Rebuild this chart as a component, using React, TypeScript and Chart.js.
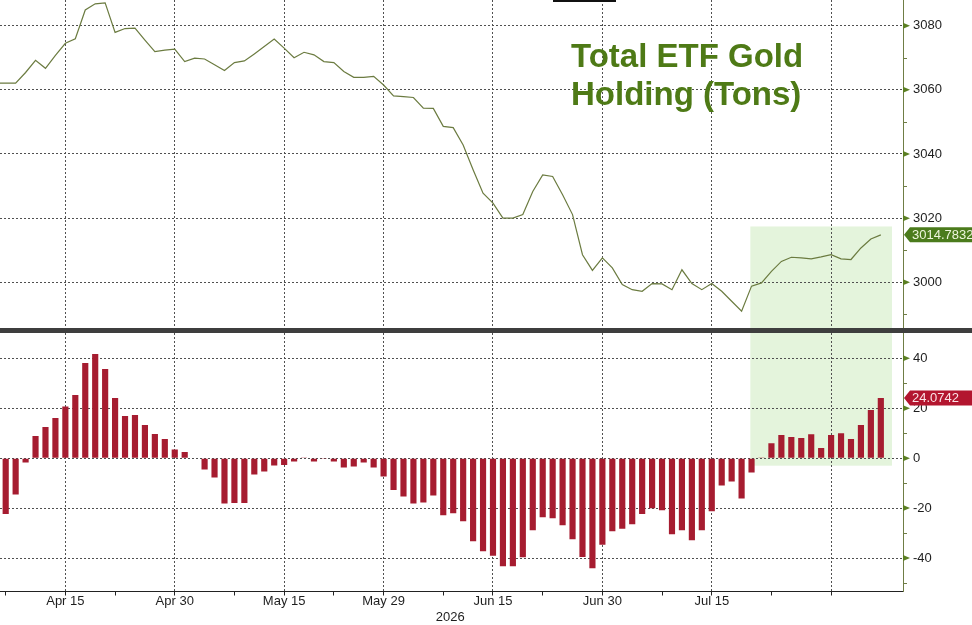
import React, { useEffect, useRef } from "react";
import { Chart, registerables } from "chart.js";

Chart.register(...registerables);

// ---------- data (weekdays, 2026) ----------
const dates = [
  "Apr 6", "Apr 7", "Apr 8", "Apr 9", "Apr 10", "Apr 13", "Apr 14", "Apr 15", "Apr 16", "Apr 17",
  "Apr 20", "Apr 21", "Apr 22", "Apr 23", "Apr 24", "Apr 27", "Apr 28", "Apr 29", "Apr 30",
  "May 1", "May 4", "May 5", "May 6", "May 7", "May 8", "May 11", "May 12", "May 13", "May 14", "May 15",
  "May 18", "May 19", "May 20", "May 21", "May 22", "May 25", "May 26", "May 27", "May 28", "May 29",
  "Jun 1", "Jun 2", "Jun 3", "Jun 4", "Jun 5", "Jun 8", "Jun 9", "Jun 10", "Jun 11", "Jun 12",
  "Jun 15", "Jun 16", "Jun 17", "Jun 18", "Jun 19", "Jun 22", "Jun 23", "Jun 24", "Jun 25", "Jun 26",
  "Jun 29", "Jun 30", "Jul 1", "Jul 2", "Jul 3", "Jul 6", "Jul 7", "Jul 8", "Jul 9", "Jul 10",
  "Jul 13", "Jul 14", "Jul 15", "Jul 16", "Jul 17", "Jul 20", "Jul 21", "Jul 22", "Jul 23", "Jul 24",
  "Jul 27", "Jul 28", "Jul 29", "Jul 30", "Jul 31", "Aug 3", "Aug 4", "Aug 5", "Aug 6", "Aug 7",
];

// Total ETF gold holding (tons)
const holdings = [
  3062.1,
  3062.1, 3062.1, 3065.4, 3069.2, 3066.7, 3070.7, 3074.5, 3075.9, 3084.9, 3086.8,
  3087.1, 3077.9, 3079.1, 3079.2, 3075.5, 3071.9, 3072.4, 3072.7, 3068.8, 3069.9,
  3069.6, 3067.8, 3066.0, 3068.5, 3069.0, 3071.2, 3073.5, 3075.8, 3073.0, 3070.0,
  3071.7, 3070.9, 3068.8, 3068.5, 3065.7, 3063.9, 3063.9, 3064.2, 3061.5, 3058.1,
  3057.9, 3057.6, 3054.3, 3054.2, 3048.6, 3048.2, 3042.8, 3035.1, 3027.8, 3024.7,
  3020.0, 3020.0, 3021.1, 3028.3, 3033.5, 3033.0, 3027.3, 3021.1, 3008.6, 3003.7,
  3007.6, 3004.5, 2999.3, 2997.7, 2997.2, 2999.6, 2999.5, 2997.7, 3003.9, 2999.6,
  2997.7, 2999.6, 2997.2, 2994.1, 2991.0, 2998.8, 2999.8, 3003.4, 3006.5, 3007.8,
  3007.6, 3007.3, 3007.9, 3008.6, 3007.3, 3007.1, 3010.7, 3013.5, 3014.7832,
];

// Rolling change in holdings (tons)
const flows = [
  null,
  -22.4, -14.5, -1.7, 8.9, 12.5, 16.1, 20.7, 25.3, 38.1, 41.7,
  35.7, 24.1, 16.9, 17.3, 13.3, 9.7, 7.7, 3.5, 2.5, 0.2,
  -4.5, -7.7, -18.1, -17.9, -17.9, -6.5, -5.3, -2.9, -2.7, -1.3,
  0.3, -1.3, -0.3, -1.3, -3.7, -3.3, -1.7, -3.7, -7.3, -12.7,
  -15.3, -18.1, -17.7, -14.9, -22.9, -22.1, -25.3, -33.3, -37.3, -39.1,
  -43.3, -43.3, -39.7, -28.9, -23.7, -24.1, -26.9, -32.5, -39.6, -44.1,
  -34.7, -29.3, -28.3, -26.5, -22.4, -20.1, -20.9, -30.5, -28.9, -32.9,
  -28.9, -21.3, -10.9, -9.3, -16.1, -5.7, 0.3, 6.0, 9.3, 8.5,
  8.1, 9.6, 4.1, 9.3, 10.0, 7.7, 13.3, 19.3, 24.0742,
];

const gridDates = ["Apr 15", "Apr 30", "May 15", "May 29", "Jun 15", "Jun 30", "Jul 15", "Jul 31"];
const labelDates = ["Apr 15", "Apr 30", "May 15", "May 29", "Jun 15", "Jun 30", "Jul 15"];
const minorDates = ["Apr 7", "Apr 22", "May 8", "May 22", "Jun 8", "Jun 22", "Jul 8", "Jul 23"];
const holdingTicks = [3080, 3060, 3040, 3020, 3000];
const holdingMinor = [3070, 3050, 3030, 3010, 2990];
const flowTicks = [40, 20, 0, -20, -40];
const flowMinor = [30, 10, -10, -30, -50];
const yearLabel = "2026";
const titleLines = ["Total ETF Gold", "Holding (Tons)"];

// ---------- view / style constants ----------
const X_MIN = 0.427;
const X_MAX = 91.23;
const TOP_MIN = 2985.75;
const TOP_MAX = 3088;
const BOT_MIN = -53.4;
const BOT_MAX = 50.15;
const SHADE_X0 = 75.88;
const SHADE_X1 = 90.12;
const SHADE_TOP = 3017.4;
const SHADE_BOT = -3;
const YEAR_X = 45.7;

const FONT = '"Liberation Sans", Arial, Helvetica, sans-serif';
const GRID = "#505050";
const DASH = [2, 2];
const AXIS = "#6f7d45";
const TRI = "#5b7f22";
const LINE = "#6b7b40";
const BAR = "#a61c30";
const SHADE = "#e4f4dc";
const TEXT = "#1e1e1e";
const TITLE = "#4e7a16";

const idx = (d: string) => dates.indexOf(d);

const zeroPad = (s: any) => {
  s.paddingTop = 0;
  s.paddingBottom = 0;
  s.paddingLeft = 0;
  s.paddingRight = 0;
};

const shadePlugin = (yTop: number | null, yBottom: number | null) => ({
  id: "shade",
  beforeDraw(chart: any) {
    const { ctx, chartArea, scales } = chart;
    const x0 = scales.x.getPixelForValue(SHADE_X0);
    const x1 = scales.x.getPixelForValue(SHADE_X1);
    const t = yTop === null ? chartArea.top : scales.y.getPixelForValue(yTop);
    const b = yBottom === null ? chartArea.bottom : scales.y.getPixelForValue(yBottom);
    ctx.save();
    ctx.fillStyle = SHADE;
    ctx.fillRect(x0, t, x1 - x0, b - t);
    ctx.restore();
  },
});

function drawAxisMarks(chart: any, majors: number[], minors: number[]) {
  const { ctx, chartArea, scales } = chart;
  const x0 = chartArea.right;
  ctx.save();
  ctx.fillStyle = TRI;
  majors.forEach((v) => {
    const py = scales.y.getPixelForValue(v);
    ctx.beginPath();
    ctx.moveTo(x0, py - 3);
    ctx.lineTo(x0 + 7, py);
    ctx.lineTo(x0, py + 3);
    ctx.closePath();
    ctx.fill();
  });
  ctx.strokeStyle = AXIS;
  ctx.lineWidth = 1;
  minors.forEach((v) => {
    const py = Math.round(scales.y.getPixelForValue(v)) + 0.5;
    if (py < chartArea.top || py > chartArea.bottom) return;
    ctx.beginPath();
    ctx.moveTo(x0, py);
    ctx.lineTo(x0 + 4, py);
    ctx.stroke();
  });
  ctx.restore();
}

function drawTag(chart: any, value: number, bg: string, fg: string) {
  const { ctx, chartArea, scales, width } = chart;
  const py = scales.y.getPixelForValue(value);
  const x0 = chartArea.right + 1;
  const h = 15;
  ctx.save();
  ctx.fillStyle = bg;
  ctx.beginPath();
  ctx.moveTo(x0, py);
  ctx.lineTo(x0 + 6, py - h / 2);
  ctx.lineTo(width, py - h / 2);
  ctx.lineTo(width, py + h / 2);
  ctx.lineTo(x0 + 6, py + h / 2);
  ctx.closePath();
  ctx.fill();
  ctx.fillStyle = fg;
  ctx.font = `13px ${FONT}`;
  ctx.textBaseline = "middle";
  ctx.textAlign = "left";
  ctx.fillText(value.toFixed(4), x0 + 8, py + 0.5);
  ctx.restore();
}

const topMarks = {
  id: "topMarks",
  afterDraw(chart: any) {
    const { ctx } = chart;
    ctx.save();
    ctx.fillStyle = TITLE;
    ctx.font = `bold 33px ${FONT}`;
    ctx.textAlign = "left";
    ctx.textBaseline = "alphabetic";
    ctx.fillText(titleLines[0], 571, 66.7);
    ctx.fillText(titleLines[1], 571, 105);
    ctx.restore();
    drawAxisMarks(chart, holdingTicks, holdingMinor);
    drawTag(chart, holdings[holdings.length - 1], "#4b7b1c", "#eef5dc");
  },
};

const botMarks = {
  id: "botMarks",
  afterDraw(chart: any) {
    const { ctx, scales } = chart;
    drawAxisMarks(chart, flowTicks, flowMinor);
    drawTag(chart, flows[flows.length - 1] as number, "#b3162f", "#fbe3e6");
    ctx.save();
    ctx.fillStyle = TEXT;
    ctx.font = `13px ${FONT}`;
    ctx.textAlign = "center";
    ctx.textBaseline = "middle";
    ctx.fillText(yearLabel, scales.x.getPixelForValue(YEAR_X), 284.3);
    ctx.restore();
  },
};

export default function App() {
  const topRef = useRef<HTMLCanvasElement>(null);
  const botRef = useRef<HTMLCanvasElement>(null);

  useEffect(() => {
    const common: any = {
      responsive: false,
      animation: false,
      events: [],
      layout: { padding: 0 },
      plugins: { legend: { display: false }, tooltip: { enabled: false }, title: { display: false } },
    };

    const top = new Chart(topRef.current as HTMLCanvasElement, {
      type: "line",
      data: {
        datasets: [
          {
            data: holdings.map((v, i) => ({ x: i, y: v })),
            borderColor: LINE,
            borderWidth: 1.2,
            pointRadius: 0,
            tension: 0,
            fill: false,
          },
        ],
      },
      options: {
        ...common,
        scales: {
          x: {
            type: "linear",
            min: X_MIN,
            max: X_MAX,
            offset: false,
            afterBuildTicks: (s: any) => {
              s.ticks = gridDates.map((d) => ({ value: idx(d) }));
            },
            ticks: { display: false, autoSkip: false },
            grid: { color: GRID, lineWidth: 1, drawTicks: false, offset: false },
            border: { display: false, dash: DASH },
            afterFit: (s: any) => {
              s.height = 0;
              zeroPad(s);
            },
          },
          y: {
            type: "linear",
            position: "right",
            min: TOP_MIN,
            max: TOP_MAX,
            afterBuildTicks: (s: any) => {
              s.ticks = holdingTicks.map((v) => ({ value: v }));
            },
            ticks: {
              autoSkip: false,
              padding: 10,
              color: TEXT,
              font: { family: FONT, size: 13 },
              callback: (v: any) => String(v),
            },
            grid: { color: GRID, lineWidth: 1, drawTicks: false },
            border: { color: AXIS, width: 1, dash: DASH },
            afterFit: (s: any) => {
              s.width = 69;
              zeroPad(s);
            },
          },
        },
      } as any,
      plugins: [shadePlugin(SHADE_TOP, null), topMarks],
    });

    const barData = flows
      .map((v, i) => ({ x: i, y: v }))
      .filter((p) => p.y !== null);

    const bot = new Chart(botRef.current as HTMLCanvasElement, {
      type: "bar",
      data: {
        datasets: [
          {
            data: barData as any,
            backgroundColor: BAR,
            borderWidth: 0,
            barPercentage: 0.62,
            categoryPercentage: 1,
          },
        ],
      },
      options: {
        ...common,
        scales: {
          x: {
            type: "linear",
            min: X_MIN,
            max: X_MAX,
            offset: false,
            afterBuildTicks: (s: any) => {
              s.ticks = [...gridDates, ...minorDates]
                .map((d) => ({ value: idx(d) }))
                .sort((a, b) => a.value - b.value);
            },
            ticks: {
              autoSkip: false,
              maxRotation: 0,
              minRotation: 0,
              padding: 0,
              color: TEXT,
              font: { family: FONT, size: 13, lineHeight: 0.9 },
              callback: (v: any) => {
                const d = dates[Math.round(v)];
                return labelDates.includes(d) ? d : "";
              },
            },
            grid: {
              color: (c: any) =>
                c.tick && !gridDates.includes(dates[Math.round(c.tick.value)]) ? "rgba(0,0,0,0)" : GRID,
              lineWidth: 1,
              drawTicks: true,
              tickLength: 4,
              tickColor: "#222",
              tickWidth: 1,
              offset: false,
            },
            border: { display: true, color: "#222", width: 1, dash: DASH },
            afterFit: (s: any) => {
              s.height = 33.5;
              zeroPad(s);
            },
          },
          y: {
            type: "linear",
            position: "right",
            min: BOT_MIN,
            max: BOT_MAX,
            beginAtZero: false,
            afterBuildTicks: (s: any) => {
              s.ticks = flowTicks.map((v) => ({ value: v }));
            },
            ticks: {
              autoSkip: false,
              padding: 10,
              color: TEXT,
              font: { family: FONT, size: 13 },
              callback: (v: any) => String(v),
            },
            grid: { color: GRID, lineWidth: 1, drawTicks: false },
            border: { color: AXIS, width: 1, dash: DASH },
            afterFit: (s: any) => {
              s.width = 69;
              zeroPad(s);
            },
          },
        },
      } as any,
      plugins: [shadePlugin(null, SHADE_BOT), botMarks],
    });

    return () => {
      top.destroy();
      bot.destroy();
    };
  }, []);

  return (
    <div
      style={{
        position: "fixed",
        left: 0,
        top: 0,
        width: 972,
        height: 625,
        background: "#ffffff",
        overflow: "hidden",
      }}
    >
      <canvas
        ref={topRef}
        width={972}
        height={328}
        style={{ position: "absolute", left: 0, top: 0, width: 972, height: 328 }}
      />
      <div style={{ position: "absolute", left: 0, top: 328, width: 972, height: 5, background: "#3e3e3e" }} />
      <div style={{ position: "absolute", left: 553, top: 0, width: 63, height: 2, background: "#111" }} />
      <canvas
        ref={botRef}
        width={972}
        height={292}
        style={{ position: "absolute", left: 0, top: 333, width: 972, height: 292 }}
      />
    </div>
  );
}
